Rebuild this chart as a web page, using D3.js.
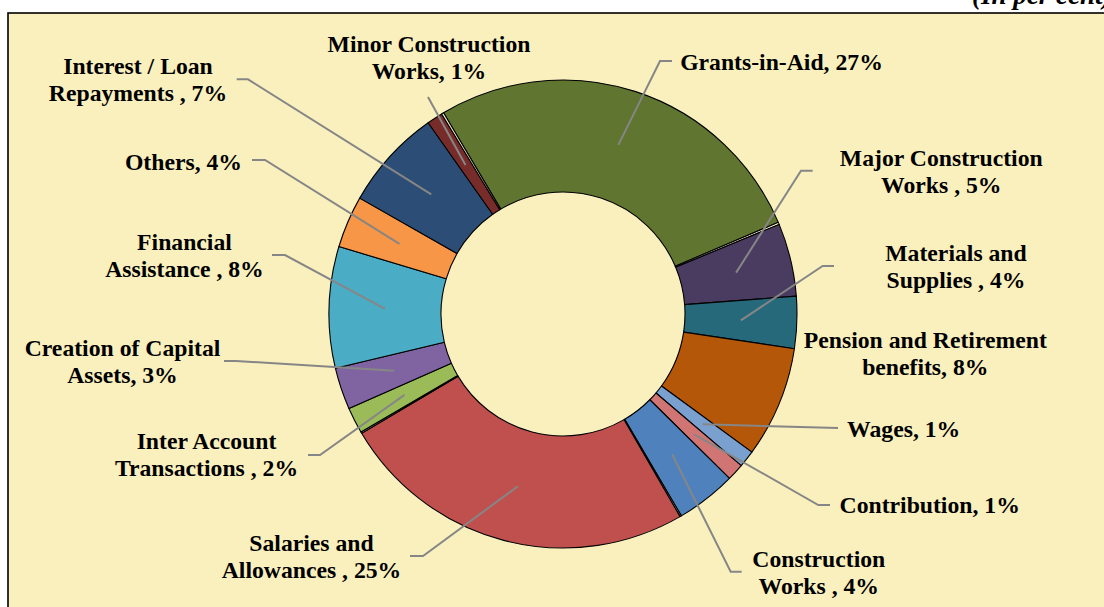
<!DOCTYPE html>
<html>
<head>
<meta charset="utf-8">
<script src="https://cdn.jsdelivr.net/npm/d3@7"></script>
<style>
  html, body { margin: 0; padding: 0; background: #ffffff; }
  svg { display: block; }
</style>
</head>
<body>
<svg id="chart" width="1104" height="607"></svg>
<script>
// ---- data ----
const categories = [
  "Grants-in-Aid", "", "Major Construction Works", "Materials and Supplies",
  "Pension and Retirement benefits", "Wages", "Contribution", "Construction Works", "",
  "Salaries and Allowances", "", "Inter Account Transactions", "Creation of Capital Assets",
  "Financial Assistance", "Others", "Interest / Loan Repayments", "Minor Construction Works", ""
];
const values = [27.2, 0.15, 5.05, 3.6, 7.7, 1.17, 1.19, 4.17, 0.1, 24.9, 0.1, 1.8, 2.9, 8.4, 3.6, 7.0, 1.1, 0.15];
const labelLines = [
  ["Grants-in-Aid, 27%"], [],
  ["Major Construction", "Works , 5%"],
  ["Materials and", "Supplies , 4%"],
  ["Pension and Retirement", "benefits, 8%"],
  ["Wages, 1%"],
  ["Contribution, 1%"],
  ["Construction", "Works , 4%"], [],
  ["Salaries and", "Allowances , 25%"], [],
  ["Inter Account", "Transactions , 2%"],
  ["Creation of Capital", "Assets, 3%"],
  ["Financial", "Assistance , 8%"],
  ["Others, 4%"],
  ["Interest / Loan", "Repayments , 7%"],
  ["Minor Construction", "Works, 1%"], []
];
const colors = [
  "#5F7530", "#FBF4CC", "#4A3B60", "#26697B", "#B45708", "#7AA0D0", "#D07574", "#4F81BD", "#FBF4CC",
  "#C0504D", "#FBF4CC", "#9BBB59", "#8064A2", "#4BACC6", "#F79646", "#2C4D75", "#772C2A", "#FBF4CC"
];
const unitNote = "(In per cent)";

// ---- layout (label placement) ----
// text centre x, first baseline y, leader path points after the slice centroid
const labelLayout = [
  {x: 781.5, y: 70,  lead: [[660, 61], [672, 61]]},
  null,
  {x: 941.3, y: 166, lead: [[801, 170.7], [812.7, 170.7]]},
  {x: 956,   y: 260.7, lead: [[822.7, 266], [834, 266]]},
  {x: 925.3, y: 348.3, lead: null},
  {x: 903.7, y: 436.7, lead: [[838, 428]]},
  {x: 929.7, y: 512.7, lead: [[818.3, 505], [830, 505]]},
  {x: 818.8, y: 566.7, lead: [[730.7, 571.7], [741.7, 571.7]]},
  null,
  {x: 311.5, y: 551, lead: [[423, 556], [410, 556]]},
  null,
  {x: 206.5, y: 449, lead: [[320, 455], [308, 455]]},
  {x: 122.5, y: 356, lead: [[236, 361], [224, 361]]},
  {x: 184.5, y: 250, lead: [[285, 255], [272, 255]]},
  {x: 183.5, y: 170, lead: [[265, 160], [252, 160]]},
  {x: 138,   y: 74.3, lead: [[248, 79.3], [236.7, 79.3]]},
  {x: 429,   y: 52,  lead: [[428, 97]]},
  null
];

const W = 1104, H = 607;
const cx = 563, cy = 314, rOuter = 234, rInner = 122;
const startDeg = -30.7;
const fontSize = 23.7, lineH = 26.9;
const bg = "#FAF0BE";

const svg = d3.select("#chart");

// chart area background & border (top and left visible)
svg.append("rect").attr("x", 8).attr("y", 13).attr("width", W).attr("height", H)
  .attr("fill", bg).attr("stroke", "#000").attr("stroke-width", 1.6);

// unit note (cut by the top of the picture, as in the source)
svg.append("text").attr("x", 972).attr("y", 4)
  .attr("font-family", "'Liberation Serif', 'Times New Roman', serif")
  .attr("font-weight", "bold").attr("font-style", "italic")
  .attr("font-size", 27).attr("fill", "#000").text(unitNote);

const data = categories.map((c, i) => ({name: c, value: values[i], color: colors[i], lines: labelLines[i], layout: labelLayout[i]}));

const start = startDeg * Math.PI / 180;
const pie = d3.pie().sort(null).value(d => d.value).startAngle(start).endAngle(start + 2 * Math.PI);
const arcs = pie(data);
const arc = d3.arc().innerRadius(rInner).outerRadius(rOuter);

const g = svg.append("g").attr("transform", `translate(${cx},${cy})`);
g.selectAll("path.slice").data(arcs).join("path")
  .attr("class", "slice")
  .attr("d", arc)
  .attr("fill", d => d.data.color)
  .attr("stroke", "#000")
  .attr("stroke-width", 1.1)
  .attr("stroke-linejoin", "round");

// leader lines
const line = d3.line();
arcs.forEach(d => {
  const L = d.data.layout;
  if (!L || !L.lead) return;
  const c = arc.centroid(d);
  const pts = [[c[0] + cx, c[1] + cy]].concat(L.lead);
  svg.append("path").attr("d", line(pts))
    .attr("fill", "none").attr("stroke", "#868686").attr("stroke-width", 2);
});

// labels
arcs.forEach(d => {
  const L = d.data.layout;
  if (!L || !d.data.lines.length) return;
  const t = svg.append("text")
    .attr("font-family", "'Liberation Serif', 'Times New Roman', serif")
    .attr("font-weight", "bold").attr("font-size", fontSize)
    .attr("fill", "#000").attr("text-anchor", "middle");
  d.data.lines.forEach((s, i) => {
    t.append("tspan").attr("x", L.x).attr("y", L.y + i * lineH).text(s);
  });
});
</script>
</body>
</html>
